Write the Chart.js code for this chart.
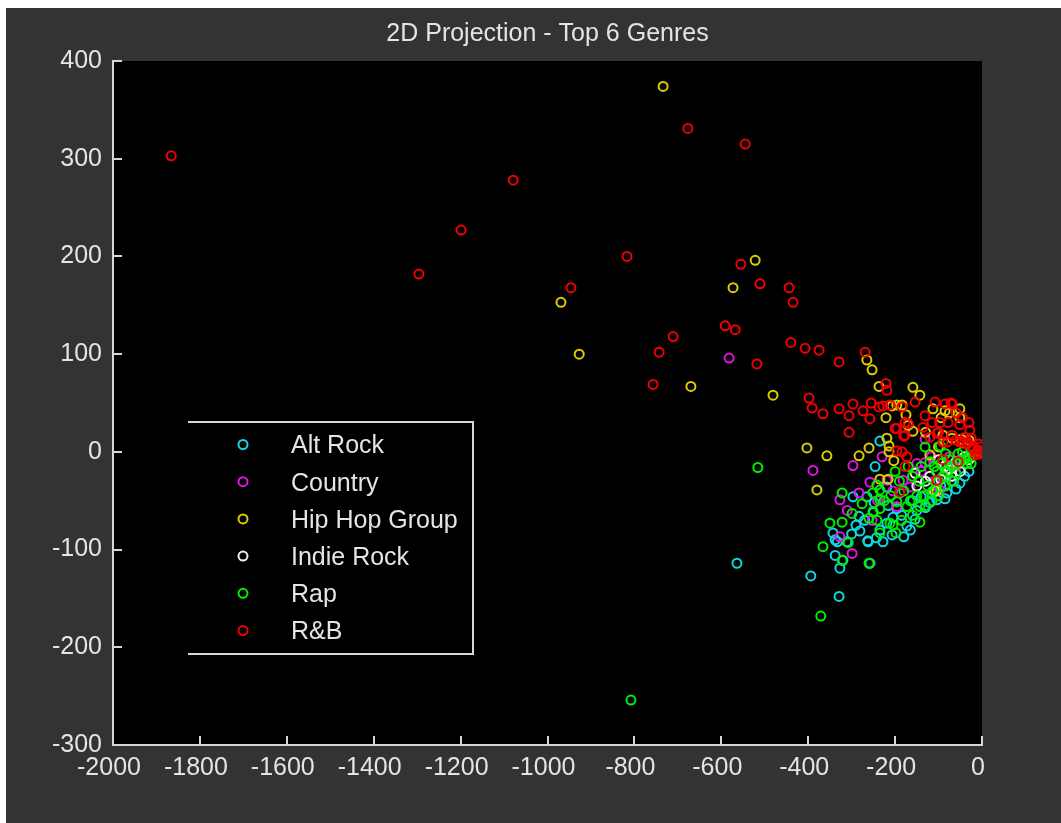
<!DOCTYPE html>
<html>
<head>
<meta charset="utf-8">
<title>2D Projection - Top 6 Genres</title>
<script src="https://cdn.jsdelivr.net/npm/chart.js@4.4.0/dist/chart.umd.min.js"></script>
<style>
  html, body { margin: 0; padding: 0; background: #ffffff; }
  #frame { position: absolute; left: 6px; top: 8px; width: 1055px; height: 815px; background: #333333; }
  canvas { display: block; }
</style>
</head>
<body>
<div id="frame"><canvas id="chart" width="1055" height="815"></canvas></div>
<script>
// Genre names, in legend order
const genres = ['Alt Rock', 'Country', 'Hip Hop Group', 'Indie Rock', 'Rap', 'R&B'];

// Tick values for both axes
const xTicks = [-2000, -1800, -1600, -1400, -1200, -1000, -800, -600, -400, -200, 0];
const yTicks = [-300, -200, -100, 0, 100, 200, 300, 400];

// Projected coordinates [x, y] per genre
const altRock = [
  [-564,-114],[-394,-127],[-329,-148],[-327,-119],[-320,-111],[-338,-106],[-338,-90],[-343,-83],
  [-333,-92],[-297,-46],[-265,-46],[-283,-66],[-281,-81],[-263,-91],[-228,-92],[-180,-87],
  [-154,-69],[-173,-76],[-219,-73],[-235,-80],[-205,-67],[-189,-42],[-104,-49],[-81,-42],
  [-51,-32],[-219,-36],[-246,-15],[-235,11],[-258,-114],[-311,-92],[-262,-92],[-300,-84],
  [-270,-70],[-250,-62],[-216,-55],[-196,-58],[-160,-50],[-140,-46],[-120,-52],[-95,-35],
  [-70,-30],[-60,-38],[-40,-25],[-30,-20],[-150,-60],[-185,-65],[-207,-85],[-243,-88],
  [-290,-75],[-248,-52],[-85,-48],[-115,-43],[-130,-57],[-165,-80]
];
const country = [
  [-582,96],[-389,-19],[-297,-14],[-230,-5],[-131,13],[-117,-5],[-327,-49],[-283,-42],
  [-258,-31],[-219,-29],[-327,-87],[-299,-104],[-253,-70],[-196,-56],[-131,-11],[-182,-29],
  [-166,-36],[-97,-39],[-60,-15],[-75,-5],[-140,-20],[-205,-40],[-310,-60],[-240,-50],
  [-110,-30],[-50,-8],[-150,-12]
];
const hipHopGroup = [
  [-734,374],[-522,196],[-573,168],[-969,153],[-927,100],[-670,67],[-481,58],[-265,94],
  [-253,84],[-403,4],[-357,-4],[-380,-39],[-237,67],[-207,47],[-221,35],[-175,38],
  [-159,66],[-143,58],[-159,21],[-113,44],[-85,42],[-51,44],[-283,-4],[-260,4],
  [-219,14],[-214,6],[-214,0],[-203,-9],[-196,48],[-184,48],[-170,27],[-94,35],
  [-51,35],[-90,17],[-69,14],[-235,-28],[-216,-28],[-104,-40],[-48,13],[-120,-3],
  [-130,20],[-30,12],[-75,40],[-100,5]
];
const indieRock = [
  [-154,-22],[-120,-25],[-85,-15],[-100,-8],[-60,-10],[-40,-5],[-150,-35],[-110,-40],
  [-70,-25],[-130,-30],[-30,-8],[-95,-28],[-75,-18],[-50,-20]
];
const rap = [
  [-808,-254],[-516,-16],[-371,-168],[-366,-97],[-322,-42],[-350,-73],[-322,-72],[-308,-93],
  [-322,-111],[-260,-114],[-299,-63],[-276,-53],[-251,-42],[-235,-49],[-251,-61],[-235,-83],
  [-212,-73],[-242,-34],[-198,-83],[-143,-72],[-242,-70],[-260,-68],[-235,-58],[-196,-51],
  [-173,-56],[-143,-56],[-131,5],[-235,-39],[-113,-40],[-100,-30],[-90,-25],[-80,-20],
  [-70,-15],[-60,-12],[-50,-10],[-40,-8],[-30,-5],[-20,-3],[-150,-45],[-165,-50],
  [-125,-35],[-105,-20],[-95,-12],[-75,-8],[-55,-2],[-45,0],[-65,-30],[-85,-35],
  [-180,-40],[-210,-45],[-225,-50],[-200,-20],[-160,-25],[-140,-15],[-120,-10],[-115,-50],
  [-130,-55],[-160,-65],[-185,-70],[-205,-75],[-96,6],[-84,-2],[-35,-12],[-15,-2],
  [-10,-1],[-190,-30],[-170,-15],[-145,-30],[-110,-15],[-135,-45],[-100,-45],[-60,-22],
  [-25,-12],[-5,-1]
];
const rnb = [
  [-1866,303],[-1296,182],[-1199,227],[-1079,278],[-946,168],[-817,200],[-677,331],[-545,315],
  [-555,192],[-511,172],[-444,168],[-435,153],[-591,129],[-568,125],[-711,118],[-743,102],
  [-518,90],[-440,112],[-407,106],[-375,104],[-757,69],[-329,92],[-269,102],
  [-398,55],[-391,45],[-366,39],[-329,44],[-306,37],[-297,49],[-306,20],[-274,42],
  [-258,34],[-255,50],[-237,46],[-221,70],[-219,63],[-228,47],[-212,48],[-184,46],
  [-170,29],[-154,51],[-200,24],[-180,16],[-196,24],[-177,30],[-177,17],[-131,37],
  [-136,25],[-108,51],[-85,49],[-69,49],[-115,30],[-97,30],[-78,30],[-51,28],
  [-28,22],[-104,19],[-69,17],[-90,10],[-51,10],[-32,9],[-39,15],[-21,3],
  [-5,5],[-20,5],[-10,2],[-5,-2],[-15,-3],[-8,8],[-2,1],[-12,-1],
  [-184,0],[-196,1],[-173,-5],[-177,-15],[-90,-8],[-55,-10],[-189,-41],[-104,-29],
  [-71,50],[-45,35],[-60,40],[-30,30],[-120,15],[-100,20],[-80,10],[-60,12],
  [-45,10],[-35,8],[-25,14]
];

const seriesData = [altRock, country, hipHopGroup, indieRock, rap, rnb];
const seriesColors = ['#12d6de', '#e014e0', '#dccc00', '#eeeeee', '#00ee00', '#f00000'];

const FONT = '"Liberation Sans", Arial, sans-serif';
const TEXT = '#e4e4e4';
const AXIS = '#d6d6d6';

// Black plot area, inward tick marks and a boxed legend
const matlabLook = {
  id: 'matlabLook',
  beforeDraw(chart) {
    const { ctx, chartArea: a } = chart;
    ctx.save();
    ctx.fillStyle = '#000000';
    ctx.fillRect(a.left, a.top, a.right - a.left, a.bottom - a.top);
    ctx.restore();
  },
  afterDraw(chart) {
    const { ctx, chartArea: a, scales } = chart;
    ctx.save();
    ctx.strokeStyle = AXIS;
    ctx.lineWidth = 2;
    const len = 9;
    ctx.beginPath();
    scales.x.ticks.forEach(t => {
      const px = Math.round(scales.x.getPixelForValue(t.value));
      ctx.moveTo(px, a.bottom);
      ctx.lineTo(px, a.bottom - len);
    });
    scales.y.ticks.forEach(t => {
      const py = Math.round(scales.y.getPixelForValue(t.value));
      ctx.moveTo(a.left, py);
      ctx.lineTo(a.left + len, py);
    });
    ctx.stroke();

    // legend box (top, right and bottom edges)
    const box = { left: 182, right: 467, top: 414, bottom: 646 };
    ctx.beginPath();
    ctx.moveTo(box.left, box.top);
    ctx.lineTo(box.right, box.top);
    ctx.lineTo(box.right, box.bottom);
    ctx.lineTo(box.left, box.bottom);
    ctx.stroke();

    ctx.font = '25px ' + FONT;
    ctx.textBaseline = 'middle';
    ctx.textAlign = 'left';
    genres.forEach((g, i) => {
      const y = 436.5 + i * 37.2;
      ctx.beginPath();
      ctx.strokeStyle = seriesColors[i];
      ctx.lineWidth = 2;
      ctx.arc(237, y, 4.5, 0, Math.PI * 2);
      ctx.stroke();
      ctx.fillStyle = TEXT;
      ctx.fillText(g, 285, y + 2);
    });
    ctx.restore();
  }
};

const drawOrder = [5, 4, 3, 2, 1, 0];
const plainNumber = v => String(v);

new Chart(document.getElementById('chart'), {
  type: 'scatter',
  data: {
    datasets: genres.map((g, i) => ({
      label: g,
      data: seriesData[i].map(([x, y]) => ({ x, y })),
      borderColor: seriesColors[i],
      backgroundColor: 'rgba(0,0,0,0)',
      pointRadius: 4.5,
      pointBorderWidth: 2,
      pointHoverRadius: 4.5,
      order: drawOrder[i]
    }))
  },
  options: {
    responsive: false,
    animation: false,
    devicePixelRatio: 1,
    layout: { padding: { left: 0, right: 79, top: 0, bottom: 0 } },
    plugins: {
      legend: { display: false },
      tooltip: { enabled: false },
      title: {
        display: true,
        text: '2D Projection - Top 6 Genres',
        color: TEXT,
        fullSize: false,
        font: { family: FONT, size: 25, weight: 'normal', lineHeight: 1.2 },
        padding: { top: 11, bottom: 12 }
      }
    },
    scales: {
      x: {
        type: 'linear',
        min: xTicks[0],
        max: xTicks[xTicks.length - 1],
        afterBuildTicks(scale) { scale.ticks = xTicks.map(v => ({ value: v })); },
        afterFit(scale) { scale.height = 78; },
        grid: { display: false, drawTicks: false },
        border: { display: true, color: AXIS, width: 2 },
        ticks: {
          color: TEXT,
          font: { family: FONT, size: 25 },
          padding: 8,
          labelOffset: -4,
          maxRotation: 0,
          autoSkip: false,
          callback: plainNumber
        }
      },
      y: {
        type: 'linear',
        min: yTicks[0],
        max: yTicks[yTicks.length - 1],
        afterBuildTicks(scale) { scale.ticks = yTicks.map(v => ({ value: v })); },
        afterFit(scale) { scale.width = 107; },
        grid: { display: false, drawTicks: false },
        border: { display: true, color: AXIS, width: 2 },
        ticks: {
          color: TEXT,
          font: { family: FONT, size: 25 },
          padding: 11,
          autoSkip: false,
          callback: plainNumber
        }
      }
    }
  },
  plugins: [matlabLook]
});
</script>
</body>
</html>
